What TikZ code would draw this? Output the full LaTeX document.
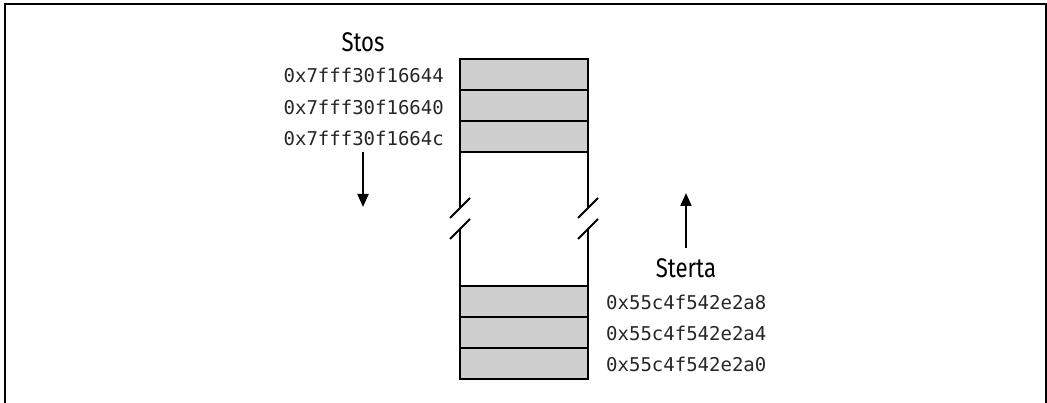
\documentclass[tikz,border=0pt]{standalone}
\usepackage{fontspec}
\usetikzlibrary{arrows.meta}
\newfontfamily\condfont[FakeStretch=0.82]{Fira Sans}
\newfontfamily\addrfont{DejaVu Sans Mono}
\tikzset{
  cell/.style={draw=black, line width=2pt, fill=cellgray, minimum width=128pt, minimum height=31pt, inner sep=0pt, outer sep=0pt},
  addr/.style={font=\addrfont\fontsize{19}{20}\selectfont, inner sep=0pt, text=black!85},
  title/.style={font=\condfont\fontsize{27}{28}\selectfont, inner sep=0pt},
  wall/.style={line width=2pt, black},
  arr/.style={line width=2pt, -{Triangle[width=11pt,length=13pt]}},
}
\definecolor{cellgray}{HTML}{CFCFCF}
\begin{document}
\begin{tikzpicture}[x=1pt,y=-1pt]
\useasboundingbox (0,0) rectangle (1047,403);
% frame
\draw[line width=2.5pt] (5,403) -- (5,4) -- (1046,4) -- (1046,403);
% stack cells
\node[cell] (s1) at (524,74.5) {};
\node[cell] (s2) at (524,105.5) {};
\node[cell] (s3) at (524,136.5) {};
% heap cells
\node[cell] (h1) at (524,301.5) {};
\node[cell] (h2) at (524,332.5) {};
\node[cell] (h3) at (524,363.5) {};
% walls with break marks
\coordinate (lb1) at (460,208);
\coordinate (lb2) at (460,229);
\coordinate (rb1) at (588,208);
\coordinate (rb2) at (588,229);
\draw[wall] (s3.south west) -- (lb1);
\draw[wall] (lb2) -- (h1.north west);
\draw[wall] (s3.south east) -- (rb1);
\draw[wall] (rb2) -- (h1.north east);
\draw[wall] ([shift={(-10,10)}]lb1) -- ([shift={(10,-10)}]lb1);
\draw[wall] ([shift={(-10,10)}]lb2) -- ([shift={(10,-10)}]lb2);
\draw[wall] ([shift={(-10,10)}]rb1) -- ([shift={(10,-10)}]rb1);
\draw[wall] ([shift={(-10,10)}]rb2) -- ([shift={(10,-10)}]rb2);
% stack labels
\node[title] (stos) at (363,42) {Stos};
\node[addr, anchor=east] (a1) at (444,75) {0x7fff30f16644};
\node[addr, anchor=east] (a2) at (444,107) {0x7fff30f16640};
\node[addr, anchor=east] (a3) at (444,138) {0x7fff30f1664c};
\coordinate (sdown0) at (363,152);
\coordinate (sdown) at (363,207);
\draw[arr] (sdown0) -- (sdown);
% heap labels
\node[title] (sterta) at (686,268) {Sterta};
\node[addr, anchor=west] (b1) at (606,302) {0x55c4f542e2a8};
\node[addr, anchor=west] (b2) at (606,333) {0x55c4f542e2a4};
\node[addr, anchor=west] (b3) at (606,364) {0x55c4f542e2a0};
\coordinate (hup0) at (686,248);
\coordinate (hup) at (686,193);
\draw[arr] (hup0) -- (hup);
\end{tikzpicture}
\end{document}
